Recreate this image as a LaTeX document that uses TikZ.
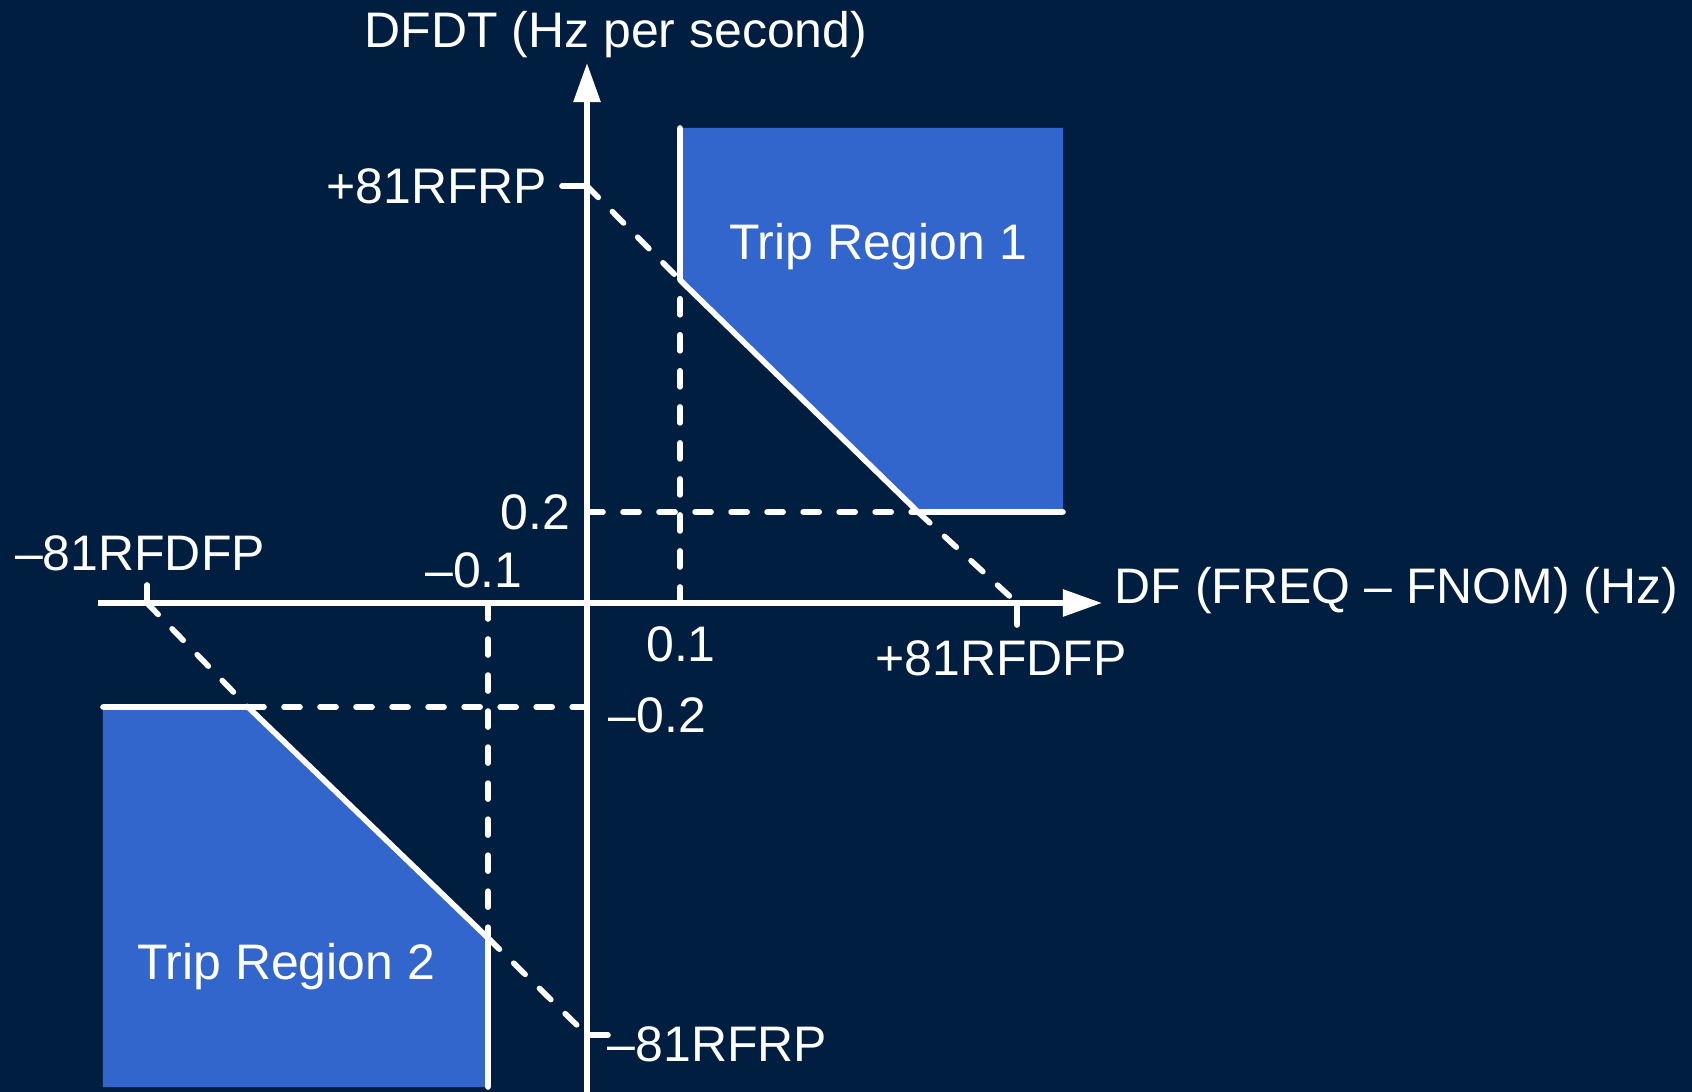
\documentclass[tikz,border=0pt]{standalone}
\usepackage{fontspec}
\setmainfont{Liberation Sans}
\usetikzlibrary{arrows.meta,positioning}
\definecolor{navy}{HTML}{001E40}
\definecolor{tripblue}{HTML}{3366CC}

\begin{document}
\begin{tikzpicture}[x=0.01cm,y=0.01cm,line width=1.6pt,draw=white,
    lbl/.style={text=white,inner sep=0pt,font=\fontsize{14.2}{17}\selectfont},
    guide/.style={dash pattern=on 0.16cm off 0.2cm,line cap=round},
    axis/.style={-{Triangle[length=0.39cm,width=0.26cm]},fill=white}]
            \useasboundingbox (-587,-489) rectangle (1105,603);
            \fill[navy] (-587,-489) rectangle (1105,603);
            % \draw[step=100,color=gray!40] (-587,-489) grid (1105,603);
            \foreach \x/\y/\name in {-489/0/xl,515/0/xr,0/-489/yb,0/540/yt,
                0/417/rp,-25/417/rpt,0/-432/rn,21/-432/rnt,
                430/0/dp,430/-22/dpt,-440/0/dn,-440/18/dnt,
                93/0/f1,-99/0/f2,0/91/g1,0/-104/g2}{
                \coordinate (\name) at (\x,\y);
            }
            % trip regions
            \foreach \x/\y/\name in {93/475/a1,93/323/a2,331/91/a3,476/91/a4,476/475/a5,
                -484/-104/b1,-339/-104/b2,-99/-335/b3,-99/-484/b4,-484/-484/b5}{
                \coordinate (\name) at (\x,\y);
            }
            \fill[tripblue] (a1)--(a2)--(a3)--(a4)--(a5)--cycle;
            \fill[tripblue] (b1)--(b2)--(b3)--(b4)--(b5)--cycle;
            \draw[line cap=round,line join=round] (a1)--(a2)--(a3)--(a4);
            \draw[line cap=round,line join=round] (b1)--(b2)--(b3)--(b4);
            % dashed guides
            \foreach \from/\to in {rp/a2,a3/dp,dn/b2,b3/rn,g1/a3,b2/g2,f1/a2,f2/b3} {
                \draw[guide] (\from)--(\to) ;
            }
            % axes and ticks
            \draw[axis] (xl)--(xr);
            \draw[axis] (yb)--(yt);
            \foreach \from/\to in {rpt/rp,rn/rnt,dp/dpt,dn/dnt} {
                \draw[line cap=round] (\from)--(\to) ;
            }
            % labels
            \node[lbl] (ytitle) at (29,568) {DFDT (Hz per second)};
            \node[lbl,anchor=west] (xtitle) at (525,12) {DF (FREQ -- FNOM) (Hz)};
            \node[lbl,anchor=east] (rfrpp) at (-37,417) {+81RFRP};
            \node[lbl,anchor=west] (rfrpn) at (18,-441) {--81RFRP};
            \node[lbl] (rfdfpp) at (414,-55) {+81RFDFP};
            \node[lbl] (rfdfpn) at (-447,50) {--81RFDFP};
            \node[lbl,anchor=east] (ppos) at (-14,91) {0.2};
            \node[lbl,anchor=west] (pneg) at (19,-112) {--0.2};
            \node[lbl] (fpos) at (94,-41) {0.1};
            \node[lbl] (fneg) at (-113,33) {--0.1};
            \node[lbl] (trip1) at (291,356) {Trip Region 1};
            \node[lbl] (trip2) at (-301,-364) {Trip Region 2};
        \end{tikzpicture}
\end{document}
